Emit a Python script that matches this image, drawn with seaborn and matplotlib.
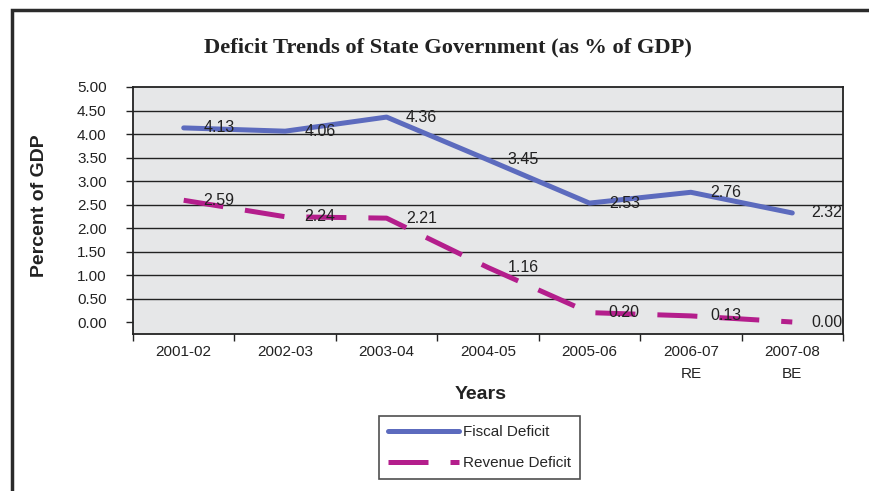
import pandas as pd
import numpy as np
import matplotlib
matplotlib.use("Agg")
import matplotlib.pyplot as plt
import seaborn as sns
from matplotlib.patches import Rectangle

years = ["2001-02", "2002-03", "2003-04", "2004-05", "2005-06", "2006-07\nRE", "2007-08\nBE"]
fiscal_deficit = [4.13, 4.06, 4.36, 3.45, 2.53, 2.76, 2.32]
revenue_deficit = [2.59, 2.24, 2.21, 1.16, 0.20, 0.13, 0.00]
y_ticks = [0.0, 0.5, 1.0, 1.5, 2.0, 2.5, 3.0, 3.5, 4.0, 4.5, 5.0]

df = pd.DataFrame({
    "Year": years * 2,
    "Value": fiscal_deficit + revenue_deficit,
    "Series": ["Fiscal Deficit"] * len(years) + ["Revenue Deficit"] * len(years),
})

sns.set_theme(style="white")
plt.rcParams['font.family'] = ['Liberation Sans', 'DejaVu Sans']

fig = plt.figure(figsize=(8.69, 4.91), dpi=100)
ax = fig.add_axes([133 / 869, 1 - 334 / 491, 710 / 869, 247 / 491])
ax.set_facecolor("#E6E7E8")

# outer frame
fig.patches.append(Rectangle((12 / 869, -0.1), 1.2, 1 - 10 / 491 + 0.1, transform=fig.transFigure,
                             fill=False, edgecolor="#2b2b2b", linewidth=2.5, zorder=0))

colors = {"Fiscal Deficit": "#5C6BBE", "Revenue Deficit": "#B41E8C"}
dashes = {"Fiscal Deficit": "", "Revenue Deficit": (8, 4.4)}
sns.lineplot(data=df, x="Year", y="Value", hue="Series", style="Series",
             palette=colors, dashes=dashes, linewidth=3.6, ax=ax, sort=False)

# gridlines
for t in y_ticks[1:-1]:
    ax.axhline(t, color="#222222", linewidth=1.0, zorder=1)

# data labels
for vals in (fiscal_deficit, revenue_deficit):
    for i, v in enumerate(vals):
        ax.annotate(f"{v:.2f}", (i, v), xytext=(14, 0), textcoords="offset points",
                    ha="left", va="center", fontsize=11.5, color="#222222")

ax.set_xlim(-0.5, len(years) - 0.5)
ax.set_ylim(-0.255, 5.0)
ax.set_yticks(y_ticks)
ax.set_yticklabels([f"{t:.2f}" for t in y_ticks], fontsize=11, color="#222222")
ax.set_xticks(range(len(years)))
ax.set_xticklabels(years, fontsize=11, color="#222222", linespacing=1.7, va="top")
ax.set_xticks(np.arange(-0.5, len(years)), minor=True)
ax.tick_params(axis="x", which="major", length=0, pad=8)
ax.tick_params(axis="x", which="minor", length=5, width=1, color="#222222", direction="out", bottom=True)
ax.tick_params(axis="y", length=5, width=1, color="#222222", direction="out", left=True, pad=14)
for lbl in ax.get_yticklabels():
    lbl.set_horizontalalignment("right")

for s in ax.spines.values():
    s.set_color("#222222")
    s.set_linewidth(1.3)

ax.set_xlabel("")
ax.set_ylabel("")
fig.text(0.046, 0.582, "Percent of GDP", rotation=90, ha="center", va="center",
         fontsize=14, fontweight="bold", color="#222222")
fig.text(0.553, 0.196, "Years", ha="center", va="center", fontsize=14,
         fontweight="bold", color="#222222")
fig.text(0.515, 0.904, "Deficit Trends of State Government (as % of GDP)", ha="center", va="center",
         fontsize=16.2, fontweight="bold", family=["Liberation Serif", "DejaVu Serif"], color="#222222")

handles, labels = ax.get_legend_handles_labels()
ax.get_legend().remove()
leg = fig.legend(handles, labels, loc="center", bbox_to_anchor=(0.552, 0.088), fontsize=11,
                 frameon=True, fancybox=False, edgecolor="#222222", handlelength=4.6,
                 handletextpad=0.3, labelspacing=1.1, borderpad=0.6, borderaxespad=0)
leg.get_frame().set_linewidth(1.2)
leg.get_frame().set_facecolor("white")

fig.savefig("out.png", dpi=100, facecolor="white")
